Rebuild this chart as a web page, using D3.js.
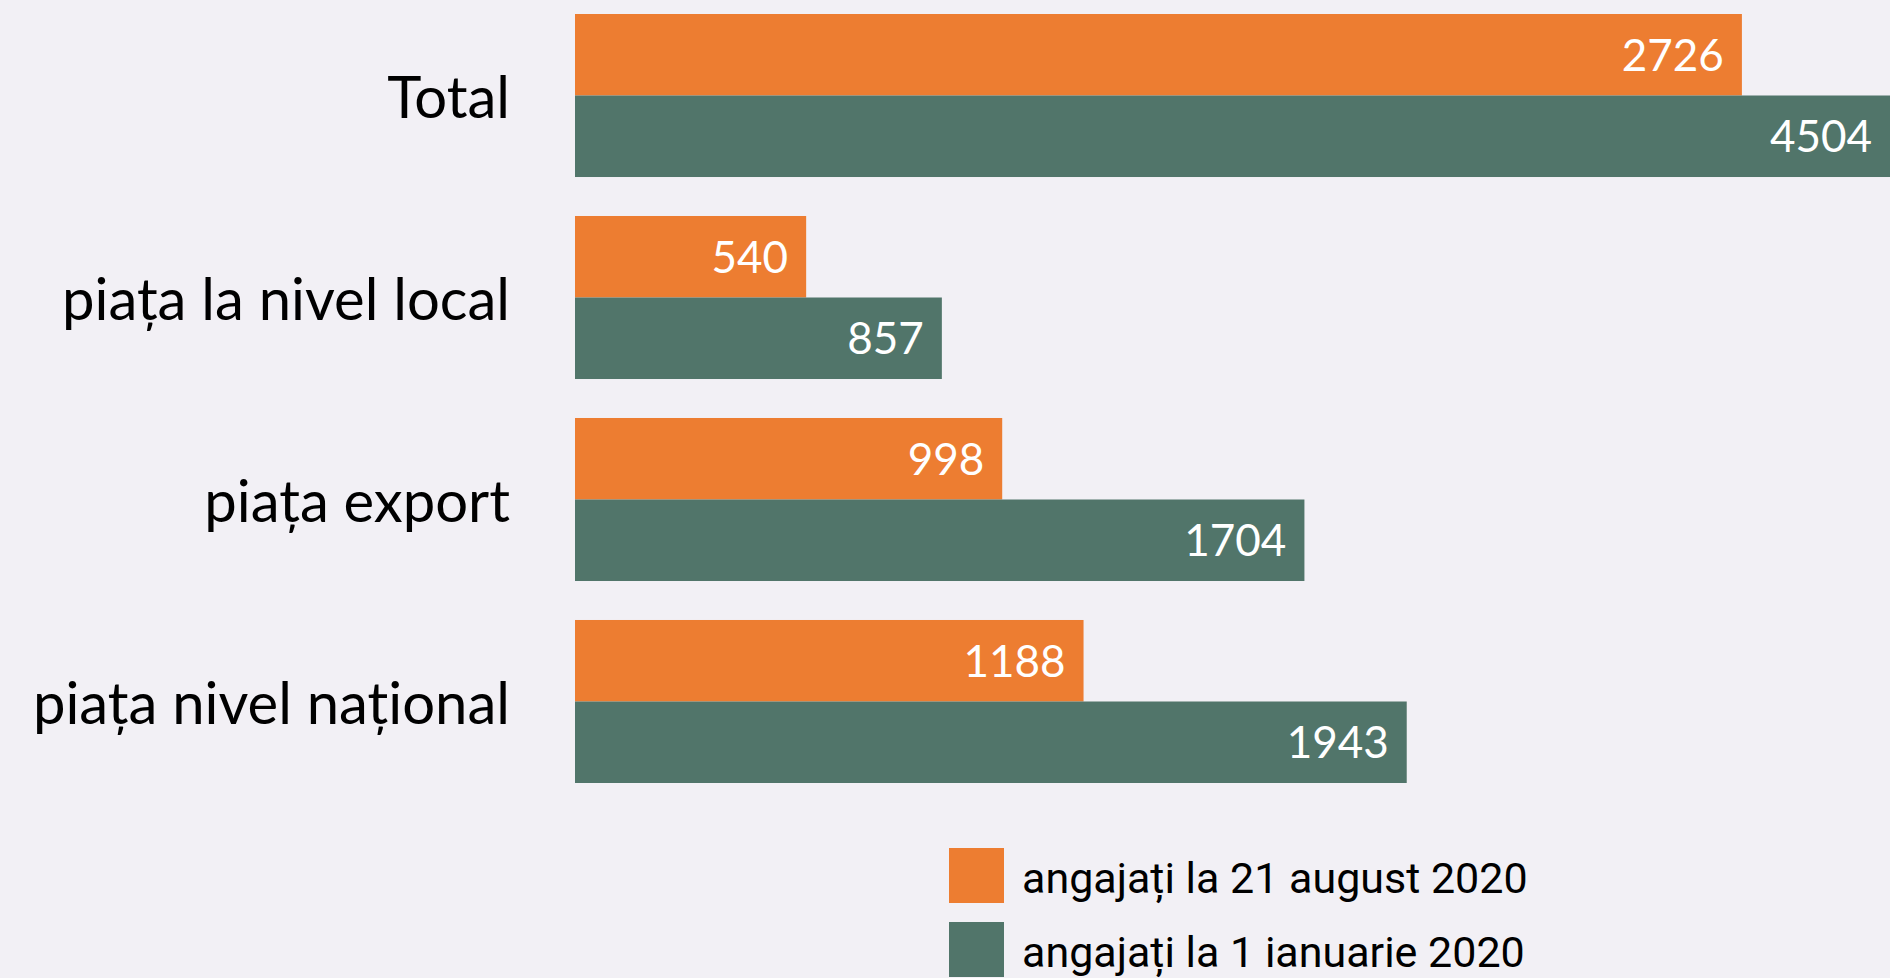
<!DOCTYPE html>
<html>
<head>
<meta charset="utf-8">
<script src="https://cdn.jsdelivr.net/npm/d3@7"></script>
<style>
  html, body { margin: 0; padding: 0; background: #f2f0f5; overflow: hidden; }
  svg { display: block; }
</style>
</head>
<body>
<svg id="chart"></svg>
<script>
// Data
const categories = ["Total", "piața la nivel local", "piața export", "piața nivel național"];
const august2020 = [2726, 540, 998, 1188];
const january2020 = [4504, 857, 1704, 1943];
const seriesNames = ["angajați la 21 august 2020", "angajați la 1 ianuarie 2020"];
const seriesColors = ["#ed7d31", "#51756a"];

const width = 1890;
const height = 978;

const svg = d3.select("#chart")
    .attr("width", width)
    .attr("height", height);

svg.append("rect")
    .attr("width", width)
    .attr("height", height)
    .attr("fill", "#f2f0f5");

// Scales
const x = d3.scaleLinear()
    .domain([0, 4504])
    .range([575, 2503]);  // the biggest bar runs off the right edge, like the original

const y = d3.scaleBand()
    .domain(categories)
    .range([14, 783])
    .paddingInner(0.193)
    .paddingOuter(0);

const sub = d3.scaleBand()
    .domain([0, 1])
    .range([0, y.bandwidth()]);

// one row per bar
const rows = [];
categories.forEach((c, i) => {
    rows.push({ cat: c, s: 0, value: august2020[i] });
    rows.push({ cat: c, s: 1, value: january2020[i] });
});

// Bars
svg.append("g")
    .selectAll("rect")
    .data(rows)
    .enter().append("rect")
    .attr("x", x(0))
    .attr("y", d => y(d.cat) + sub(d.s))
    .attr("width", d => x(d.value) - x(0))
    .attr("height", sub.bandwidth())
    .attr("fill", d => seriesColors[d.s]);

// Value labels inside bar ends
svg.append("g")
    .selectAll("text")
    .data(rows)
    .enter().append("text")
    .attr("x", d => Math.min(x(d.value), width) - 18)
    .attr("y", d => y(d.cat) + sub(d.s) + sub.bandwidth() / 2)
    .attr("dy", "0.36em")
    .attr("text-anchor", "end")
    .attr("fill", "#ffffff")
    .style("font-family", "Lato, 'Open Sans', sans-serif")
    .style("font-size", "44px")
    .text(d => d.value);

// Category labels
svg.append("g")
    .selectAll("text")
    .data(categories)
    .enter().append("text")
    .attr("x", 510)
    .attr("y", d => y(d) + y.bandwidth() / 2)
    .attr("dy", "0.38em")
    .attr("text-anchor", "end")
    .attr("fill", "#000000")
    .style("font-family", "Lato, 'Open Sans', sans-serif")
    .style("font-size", "58px")
    .text(d => d);

// Legend
const legend = svg.append("g")
    .attr("transform", "translate(949,848)");

const item = legend.selectAll("g")
    .data(seriesNames)
    .enter().append("g")
    .attr("transform", (d, i) => `translate(0,${i * 74})`);

item.append("rect")
    .attr("width", 55)
    .attr("height", 55)
    .attr("fill", (d, i) => seriesColors[i]);

item.append("text")
    .attr("x", 73)
    .attr("y", 45)
    .attr("fill", "#000000")
    .style("font-family", "Roboto, sans-serif")
    .style("font-size", "43px")
    .text(d => d);
</script>
</body>
</html>
